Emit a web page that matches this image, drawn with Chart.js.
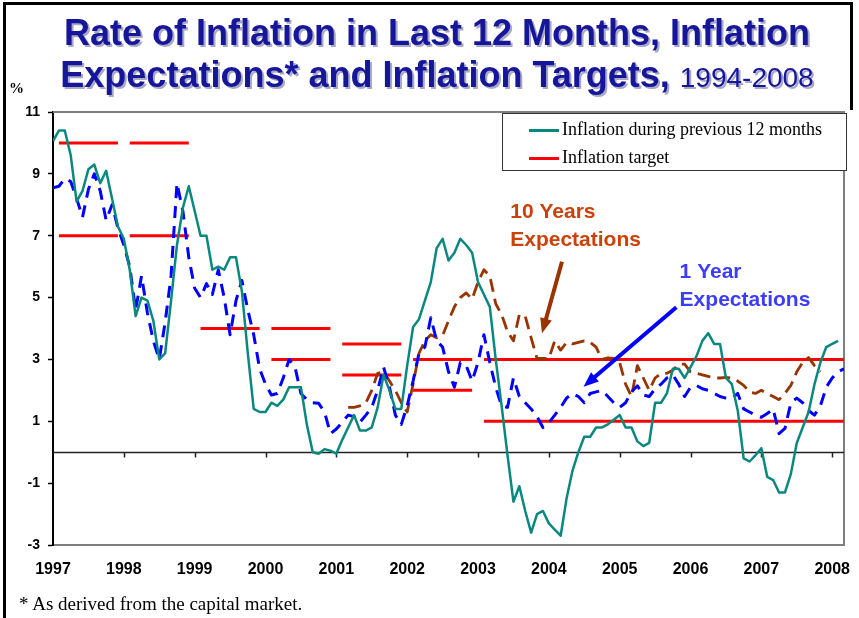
<!DOCTYPE html>
<html>
<head>
<meta charset="utf-8">
<script src="https://cdn.jsdelivr.net/npm/chart.js@4.4.0/dist/chart.umd.min.js"></script>
<style>
  body { margin: 0; background: #fff; }
  #wrap { position: relative; width: 859px; height: 618px; overflow: hidden; font-family: "Liberation Sans", Arial, sans-serif; }
  #chart { position: absolute; left: 0; top: 0; }
  #frame { position: absolute; left: 3px; top: 2px; width: 847px; height: 700px; border-left: 3px solid #000; border-top: 3px solid #000; }
  #frameRight { position: absolute; left: 850px; top: 2px; width: 3px; height: 108px; background: #000; }
  #title { position: absolute; left: 0; top: 12px; width: 874px; text-align: center; color: #16169a;
           font-weight: bold; font-size: 36px; line-height: 42px; text-shadow: 2px 2px 0 #a9a9c6; white-space: nowrap; }
  #title .yr { font-weight: normal; font-size: 28px; }
  #pct { position: absolute; left: 9px; top: 80px; font: bold 15px "Liberation Serif", serif; }
  #legend { position: absolute; left: 502px; top: 113px; width: 343px; height: 56px; border: 1px solid #333; background: #fff;
            font: 18px "Liberation Serif", "Times New Roman", serif; }
  #legend .row { position: absolute; left: 26px; height: 22px; line-height: 22px; white-space: nowrap; }
  #legend .sw { display: inline-block; width: 30px; height: 3px; vertical-align: middle; margin-right: 3px; }
  #note { position: absolute; left: 19px; top: 593px; font: 19px "Liberation Serif", "Times New Roman", serif; line-height: 22px; }
</style>
</head>
<body>
<div id="wrap">
  <canvas id="chart" width="859" height="618"></canvas>
  <div id="frame"></div>
  <div id="frameRight"></div>
  <div id="title">Rate of Inflation in Last 12 Months, Inflation<br>Expectations* and Inflation Targets, <span class="yr">1994-2008</span></div>
  <div id="pct">%</div>
  <div id="legend"></div>
  <div id="note">* As derived from the capital market.</div>
</div>
<script>
// monthly values, first value = Jan 1997
const inflation = [
  10.06, 10.4, 10.4, 9.6, 8.1, 8.45, 9.15, 9.3, 8.7, 9.1, 8.2, 7.3,
  6.9, 5.9, 4.4, 5.0, 4.9, 4.25, 3.0, 3.2, 4.9, 6.7, 7.9, 8.6,
  7.8, 7.0, 7.0, 5.9, 6.0, 5.9, 6.3, 6.3, 5.2, 3.2, 1.4, 1.3,
  1.3, 1.6, 1.5, 1.7, 2.1, 2.1, 2.1, 0.9, 0.0, -0.05, 0.1, 0.05,
  -0.05, 0.4, 0.8, 1.2, 0.7, 0.7, 0.8, 1.45, 2.5, 2.0, 1.4, 1.4,
  2.8, 4.05, 4.3, 4.9, 5.5, 6.6, 6.9, 6.2, 6.45, 6.9, 6.7, 6.45,
  5.5, 5.1, 4.7, 3.0, 1.5, -0.1, -1.6, -1.1, -1.9, -2.6, -2.0, -1.9,
  -2.3, -2.5, -2.7, -1.5, -0.6, 0.0, 0.5, 0.5, 0.8, 0.8, 0.9, 1.05,
  1.2, 0.8, 0.8, 0.35, 0.2, 0.3, 1.6, 1.6, 1.9, 2.7, 2.7, 2.4,
  2.75, 3.1, 3.6, 3.85, 3.5, 3.5, 2.4, 2.2, 1.35, -0.2, -0.3, -0.1,
  0.13, -0.8, -0.9, -1.3, -1.3, -0.7, 0.3, 0.8, 1.3, 2.2, 2.9, 3.4,
  3.5, 3.6
];
// 1 year expectations, first value = Jan 1997
const oneYearExp = [
  8.55, 8.6, 8.85, 8.75, 8.2, 7.6, 8.5, 9.0, 8.45, 7.5, 8.0, 7.25,
  6.7, 6.0, 4.6, 5.7, 4.5, 3.6, 3.0, 4.2, 5.7, 8.7, 7.8, 6.3,
  5.3, 5.0, 5.45, 5.1, 5.9, 5.0, 3.8, 4.9, 5.55, 4.6, 3.8, 2.7,
  2.2, 1.85, 1.9, 2.4, 3.0, 2.75, 1.9, 1.7, 1.6, 1.58, 1.3, 0.6,
  0.75, 0.97, 1.2, 1.15, 0.97, 1.2, 1.45, 2.0, 2.75, 2.1, 1.2, 0.9,
  1.5, 2.3, 3.2, 3.4, 4.35, 3.6, 3.4, 2.6, 2.1, 2.9, 2.8, 2.3,
  2.9, 3.8, 2.9, 2.1, 1.5, 1.45, 2.4, 1.8, 1.6, 1.4, 1.15, 0.8,
  0.95, 1.2, 1.45, 1.75, 1.9, 1.8, 1.6, 1.9, 1.95, 2.0, 1.8, 1.6,
  1.45, 1.6, 1.95, 2.15, 1.85, 1.8, 2.05, 2.2, 2.4, 2.5, 2.2, 1.8,
  2.1, 2.16, 2.05, 2.0, 1.9, 1.8, 1.75, 1.74, 1.9, 1.4, 1.3, 1.2,
  1.13, 1.25, 1.4, 0.6, 0.77, 1.6, 1.75, 1.6, 1.35, 1.2, 1.5, 2.1,
  2.4, 2.6, 2.7
];
// 10 year expectations, first value = Mar 2001
const tenYearExp = [
  1.45, 1.45, 1.5, 1.6, 2.0, 2.55, 2.6, 2.3, 2.0, 1.6,
  1.3, 2.2, 3.2, 3.6, 3.8, 3.7, 3.77, 4.25, 4.7, 5.0, 5.15, 4.95,
  5.5, 5.9, 5.7, 4.8, 4.45, 3.9, 3.6, 4.45, 4.4, 3.7, 3.03, 3.03,
  3.03, 3.6, 3.3, 3.55, 3.5, 3.55, 3.6, 3.55, 3.4, 3.0, 3.05, 3.03,
  2.9, 2.2, 1.8, 2.8, 2.4, 2.0, 2.4, 2.55, 2.55, 2.65, 2.85, 2.85,
  2.6, 2.55, 2.5, 2.45, 2.4, 2.4, 2.42, 2.4, 2.3, 2.16, 1.95, 1.9,
  2.0, 1.9, 1.8, 1.7, 1.9, 2.16, 2.6, 2.9, 3.06, 2.8, 2.6
];
const targetYears = [1997, 1998, 1999, 2000, 2001, 2002, 2003];
const targetLow = [7, 7, 4, 3, 2.5, 2, 1];
const targetHigh = [10, 10, 4, 4, 3.5, 3, 3];
const yearTicks = [1997, 1998, 1999, 2000, 2001, 2002, 2003, 2004, 2005, 2006, 2007, 2008];
const valueTicks = [-3, -1, 1, 3, 5, 7, 9, 11];

const xMin = 1997, xMax = 2008 + 2 / 12;

function monthly(startYear, startMonth, values) {
  return values.map((v, i) => ({ x: startYear + (startMonth + i) / 12, y: v }));
}

const datasets = [
  { label: 'Inflation during previous 12 months', data: monthly(1997, 0, inflation), borderColor: '#0a8880', borderWidth: 2.5 },
  { label: '1 Year Expectations', data: monthly(1997, 0, oneYearExp), borderColor: '#0000ff', borderWidth: 3, borderDash: [12, 8] },
  { label: '10 Years Expectations', data: monthly(2001, 2, tenYearExp), borderColor: '#993300', borderWidth: 2.8, borderDash: [13, 7] }
];
targetYears.forEach((yr, k) => {
  const start = yr + 1 / 12;
  const end = k === targetYears.length - 1 ? xMax : yr + 11 / 12;
  const levels = targetLow[k] === targetHigh[k] ? [targetLow[k]] : [targetLow[k], targetHigh[k]];
  levels.forEach(v => datasets.push({
    label: 'Inflation target', data: [{ x: start, y: v }, { x: end, y: v }],
    borderColor: '#ff0000', borderWidth: 3
  }));
});

// text + arrows, anchored in data units
const notes = [
  { lines: ['10 Years', 'Expectations'], x: 2003.455, y: 7.56, color: '#cc4108' },
  { lines: ['1 Year', 'Expectations'], x: 2005.846, y: 5.62, color: '#3c3cff' }
];
const arrows = [
  { from: [2004.185, 6.16], to: [2003.903, 3.845], color: '#993300' },
  { from: [2005.80, 4.69], to: [2004.49, 2.12], color: '#0000ff' }
];

const frameLines = {
  id: 'frameLines',
  beforeDatasetsDraw(chart) {
    const { ctx, chartArea: a, scales: { x, y } } = chart;
    ctx.save();
    ctx.strokeStyle = '#7f7f7f';
    ctx.lineWidth = 2;
    ctx.beginPath();
    ctx.moveTo(a.left, a.top); ctx.lineTo(a.right, a.top); ctx.lineTo(a.right, a.bottom);
    ctx.stroke();
    const y0 = Math.round(y.getPixelForValue(0)) + 0.5;
    ctx.strokeStyle = '#222';
    ctx.lineWidth = 1.5;
    ctx.beginPath();
    ctx.moveTo(a.left, y0); ctx.lineTo(a.right, y0);
    yearTicks.slice(1).forEach(t => {
      const px = Math.round(x.getPixelForValue(t)) + 0.5;
      ctx.moveTo(px, y0); ctx.lineTo(px, y0 + 5);
    });
    ctx.stroke();
    ctx.restore();
  },
  afterDatasetsDraw(chart) {
    const { ctx, scales: { x, y } } = chart;
    ctx.save();
    ctx.font = 'bold 21px "Liberation Sans", Arial, sans-serif';
    ctx.textBaseline = 'alphabetic';
    notes.forEach(n => {
      ctx.fillStyle = n.color;
      n.lines.forEach((t, i) => ctx.fillText(t, x.getPixelForValue(n.x), y.getPixelForValue(n.y) + i * 27.5));
    });
    arrows.forEach(ar => {
      const x1 = x.getPixelForValue(ar.from[0]), y1 = y.getPixelForValue(ar.from[1]);
      const x2 = x.getPixelForValue(ar.to[0]), y2 = y.getPixelForValue(ar.to[1]);
      const ang = Math.atan2(y2 - y1, x2 - x1);
      const head = 15;
      ctx.strokeStyle = ar.color;
      ctx.fillStyle = ar.color;
      ctx.lineWidth = 4;
      ctx.beginPath();
      ctx.moveTo(x1, y1);
      ctx.lineTo(x2 - Math.cos(ang) * head * 0.8, y2 - Math.sin(ang) * head * 0.8);
      ctx.stroke();
      ctx.beginPath();
      ctx.moveTo(x2, y2);
      ctx.lineTo(x2 - Math.cos(ang) * head + Math.sin(ang) * 6, y2 - Math.sin(ang) * head - Math.cos(ang) * 6);
      ctx.lineTo(x2 - Math.cos(ang) * head - Math.sin(ang) * 6, y2 - Math.sin(ang) * head + Math.cos(ang) * 6);
      ctx.closePath();
      ctx.fill();
    });
    ctx.restore();
  }
};

const chart = new Chart(document.getElementById('chart'), {
  type: 'line',
  data: { datasets },
  options: {
    responsive: false,
    animation: false,
    devicePixelRatio: 1,
    layout: { padding: { left: 0, top: 112, right: 15, bottom: 0 } },
    elements: { point: { radius: 0 }, line: { tension: 0, borderCapStyle: 'butt', borderJoinStyle: 'round' } },
    plugins: { legend: { display: false }, tooltip: { enabled: false }, title: { display: false } },
    scales: {
      x: {
        type: 'linear', min: xMin, max: xMax,
        afterBuildTicks: s => { s.ticks = yearTicks.map(v => ({ value: v })); },
        afterFit: s => { s.height = 73; s.paddingLeft = 0; s.paddingRight = 0; },
        ticks: {
          autoSkip: false, maxRotation: 0, padding: 15, color: '#000',
          font: { family: '"Liberation Sans", Arial, sans-serif', weight: 'bold', size: 16 },
          callback: v => String(v)
        },
        grid: { display: false, drawTicks: false },
        border: { display: true, color: '#7f7f7f', width: 2 }
      },
      y: {
        min: -3, max: 11,
        afterBuildTicks: s => { s.ticks = valueTicks.map(v => ({ value: v })); },
        afterFit: s => { s.width = 53; s.paddingTop = 0; s.paddingBottom = 0; },
        ticks: {
          padding: 8, color: '#000',
          font: { family: '"Liberation Sans", Arial, sans-serif', weight: 'bold', size: 14 }
        },
        grid: { drawOnChartArea: false, drawTicks: true, tickLength: 5, tickColor: '#000', tickWidth: 1.5 },
        border: { display: true, color: '#000', width: 2 }
      }
    }
  },
  plugins: [frameLines]
});

// legend box: only the two entries shown in the original
const legendEl = document.getElementById('legend');
const shown = [datasets[0], datasets.find(d => d.label === 'Inflation target')];
shown.forEach((d, i) => {
  const row = document.createElement('div');
  row.className = 'row';
  row.style.top = (4 + i * 28) + 'px';
  row.innerHTML = '<span class="sw" style="background:' + d.borderColor + '"></span>' + d.label;
  legendEl.appendChild(row);
});
</script>
</body>
</html>
